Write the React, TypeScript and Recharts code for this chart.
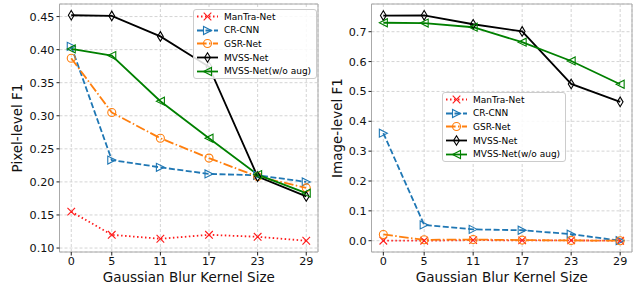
import React from "react";
import {
    LineChart,
    Line,
    XAxis,
    YAxis,
    CartesianGrid,
    ReferenceArea,
    Legend,
    Label
} from "recharts";

// kernel sizes on the x axis
const kernelSizes = [0, 5, 11, 17, 23, 29];

// pixel-level F1 (left panel)
const pixelManTra = [0.155, 0.12, 0.114, 0.12, 0.117, 0.111];
const pixelCrCnn = [0.405, 0.233, 0.222, 0.212, 0.21, 0.2];
const pixelGsr = [0.387, 0.305, 0.266, 0.236, 0.208, 0.191];
const pixelMvss = [0.452, 0.451, 0.42, 0.374, 0.208, 0.178];
const pixelMvssNoAug = [0.401, 0.391, 0.322, 0.266, 0.211, 0.183];

// image-level F1 (right panel)
const imageManTra = [0.0, 0.0, 0.002, 0.001, 0.001, 0.0];
const imageCrCnn = [0.36, 0.053, 0.038, 0.035, 0.022, 0.0];
const imageGsr = [0.021, 0.003, 0.004, 0.002, 0.001, 0.0];
const imageMvss = [0.754, 0.755, 0.725, 0.701, 0.525, 0.465];
const imageMvssNoAug = [0.73, 0.729, 0.715, 0.665, 0.602, 0.524];

const pixelTicks = [0.1, 0.15, 0.2, 0.25, 0.3, 0.35, 0.4, 0.45];
const imageTicks = [0, 0.1, 0.2, 0.3, 0.4, 0.5, 0.6, 0.7];

const seriesNames = ["ManTra-Net", "CR-CNN", "GSR-Net", "MVSS-Net", "MVSS-Net(w/o aug)"];

const series = [
    { key: "mantra", name: seriesNames[0], color: "#ff1a1a", dash: "1.5 2.5", marker: "x" },
    { key: "crcnn", name: seriesNames[1], color: "#1f77b4", dash: "6 2.5", marker: ">" },
    { key: "gsr", name: seriesNames[2], color: "#ff7f0e", dash: "9.6 2.4 1.5 2.4", marker: "o" },
    { key: "mvss", name: seriesNames[3], color: "#000000", dash: undefined, marker: "d" },
    { key: "noaug", name: seriesNames[4], color: "#008000", dash: undefined, marker: "<" }
];

const pixelData = kernelSizes.map((k, i) => ({
    k,
    mantra: pixelManTra[i],
    crcnn: pixelCrCnn[i],
    gsr: pixelGsr[i],
    mvss: pixelMvss[i],
    noaug: pixelMvssNoAug[i]
}));

const imageData = kernelSizes.map((k, i) => ({
    k,
    mantra: imageManTra[i],
    crcnn: imageCrCnn[i],
    gsr: imageGsr[i],
    mvss: imageMvss[i],
    noaug: imageMvssNoAug[i]
}));

const FONT = "'DejaVu Sans', sans-serif";
const X_DOMAIN = [-1.45, 30.45];

function Marker({ shape, cx, cy, color }: any) {
    const sw = 1.1;
    if (shape === "x") {
        const r = 3.8;
        return (
            <g stroke={color} strokeWidth={sw}>
                <line x1={cx - r} y1={cy - r} x2={cx + r} y2={cy + r} />
                <line x1={cx - r} y1={cy + r} x2={cx + r} y2={cy - r} />
            </g>
        );
    }
    if (shape === "o") {
        return <circle cx={cx} cy={cy} r={4} fill="none" stroke={color} strokeWidth={sw} />;
    }
    if (shape === "d") {
        const h = 4.8, w = 2.9;
        return (
            <polygon
                points={`${cx},${cy - h} ${cx + w},${cy} ${cx},${cy + h} ${cx - w},${cy}`}
                fill="none" stroke={color} strokeWidth={sw}
            />
        );
    }
    const s = 4;
    const dir = shape === ">" ? 1 : -1;
    return (
        <polygon
            points={`${cx + dir * s},${cy} ${cx - dir * s},${cy - s} ${cx - dir * s},${cy + s}`}
            fill="none" stroke={color} strokeWidth={sw}
        />
    );
}

const renderDot = (s: any) => (props: any) => {
    const { cx, cy, index } = props;
    return <Marker key={`${s.key}-${index}`} shape={s.marker} cx={cx} cy={cy} color={s.color} />;
};

function LegendBox() {
    return (
        <div
            style={{
                border: "1px solid #cccccc",
                borderRadius: 3,
                background: "rgba(255,255,255,0.85)",
                padding: "0 5px 0 3px",
                fontFamily: FONT,
                fontSize: 9,
                color: "#000"
            }}
        >
            {series.map((s) => (
                <div key={s.key} style={{ display: "flex", alignItems: "center", height: 13.6 }}>
                    <svg width={21} height={13} style={{ display: "block" }}>
                        <line x1={0} y1={6.5} x2={21} y2={6.5} stroke={s.color} strokeWidth={1.8} strokeDasharray={s.dash} />
                        <Marker shape={s.marker} cx={10.5} cy={6.5} color={s.color} />
                    </svg>
                    <span style={{ marginLeft: 6, whiteSpace: "nowrap" }}>{s.name}</span>
                </div>
            ))}
        </div>
    );
}

function Panel({ data, width, yWidth, yDomain, yTicks, digits, yLabel, legendPos }: any) {
    return (
        <LineChart width={width} height={284} data={data} margin={{ top: 4, right: 2, bottom: 0, left: 0 }}>
            <CartesianGrid stroke="#d4d4d4" strokeDasharray="3 2" />
            <ReferenceArea
                x1={X_DOMAIN[0]} x2={X_DOMAIN[1]} y1={yDomain[0]} y2={yDomain[1]}
                fill="none" stroke="#aaaaaa" strokeWidth={1} ifOverflow="visible"
            />
            <XAxis
                dataKey="k"
                type="number"
                domain={X_DOMAIN}
                ticks={kernelSizes}
                allowDataOverflow
                height={32}
                axisLine={false}
                tickLine={{ stroke: "#222" }}
                tickSize={3.5}
                tickMargin={2}
                tick={{ fontSize: 11.2, fill: "#111", fontFamily: FONT }}
            >
                <Label
                    content={(p: any) => {
                        const vb = p.viewBox;
                        return (
                            <text x={vb.x + vb.width / 2} y={vb.y + 25} textAnchor="middle" dominantBaseline="central"
                                fontSize={13.5} fill="#111" fontFamily={FONT}>
                                Gaussian Blur Kernel Size
                            </text>
                        );
                    }}
                />
            </XAxis>
            <YAxis
                type="number"
                domain={yDomain}
                ticks={yTicks}
                allowDataOverflow
                width={yWidth}
                axisLine={false}
                tickLine={{ stroke: "#222" }}
                tickSize={3}
                tickMargin={2}
                tickFormatter={(v: number) => v.toFixed(digits)}
                tick={{ fontSize: 11.2, fill: "#111", fontFamily: FONT }}
            >
                <Label
                    content={(p: any) => {
                        const vb = p.viewBox;
                        const cy = vb.y + vb.height / 2;
                        return (
                            <text x={16.5} y={cy} textAnchor="middle" dominantBaseline="central"
                                transform={`rotate(-90, 16.5, ${cy})`}
                                fontSize={13.5} fill="#111" fontFamily={FONT}>
                                {yLabel}
                            </text>
                        );
                    }}
                />
            </YAxis>
            <Legend
                layout="vertical"
                align="center"
                verticalAlign="middle"
                wrapperStyle={{ left: legendPos[0], top: legendPos[1], width: "auto" }}
                content={() => <LegendBox />}
            />
            {series.map((s) => (
                <Line
                    key={s.key}
                    type="linear"
                    dataKey={s.key}
                    name={s.name}
                    stroke={s.color}
                    strokeWidth={1.8}
                    strokeDasharray={s.dash}
                    dot={renderDot(s)}
                    activeDot={false}
                    isAnimationActive={false}
                />
            ))}
        </LineChart>
    );
}

export default function App() {
    return (
        <div style={{ position: "absolute", left: 0, top: 0, width: 634, height: 284, background: "#fff", fontFamily: FONT }}>
            <div style={{ position: "absolute", left: 0, top: 0 }}>
                <Panel
                    data={pixelData}
                    width={320}
                    yWidth={59.5}
                    yDomain={[0.094, 0.469]}
                    yTicks={pixelTicks}
                    digits={2}
                    yLabel="Pixel-level F1"
                    legendPos={[193, 9]}
                />
            </div>
            <div style={{ position: "absolute", left: 320, top: 0 }}>
                <Panel
                    data={imageData}
                    width={314}
                    yWidth={51.5}
                    yDomain={[-0.0378, 0.7928]}
                    yTicks={imageTicks}
                    digits={1}
                    yLabel="Image-level F1"
                    legendPos={[122, 92]}
                />
            </div>
        </div>
    );
}
